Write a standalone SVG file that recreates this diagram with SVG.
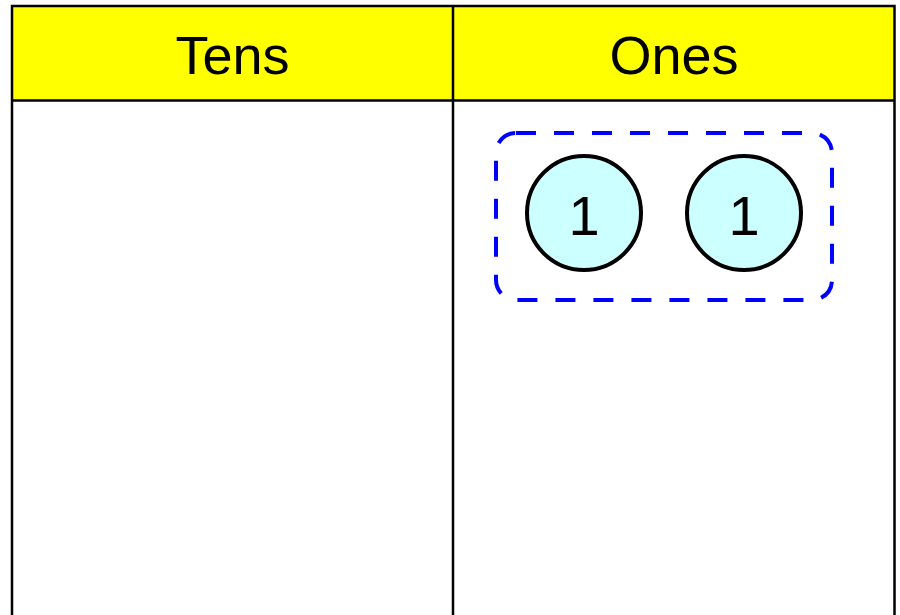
<svg xmlns="http://www.w3.org/2000/svg" width="900" height="615" viewBox="0 0 900 615">
  <style>
    .grid { stroke: #000; stroke-width: 2.5; fill: none; }
    .hdr { font-family: "Liberation Sans", Arial, sans-serif; font-size: 54px; fill: #000; text-anchor: middle; }
    .disc circle { fill: #CCFFFF; stroke: #000; stroke-width: 4; }
    .disc text { font-family: "Liberation Sans", Arial, sans-serif; font-size: 56px; fill: #000; text-anchor: middle; }
    .group { fill: none; stroke: #0000FF; stroke-width: 4; stroke-dasharray: 20 18; }
  </style>
  <rect x="0" y="0" width="900" height="615" fill="#fff"/>
  <g id="table">
    <rect x="12" y="6" width="882.5" height="94.5" fill="#FFFF00"/>
    <rect x="12" y="100.5" width="882.5" height="520" fill="#fff"/>
    <path class="grid" d="M12 630 V6 H894.5 V630 M453 6 V630 M12 100.5 H894.5"/>
    <text class="hdr" x="232.5" y="74">Tens</text>
    <text class="hdr" x="674" y="74">Ones</text>
  </g>
  <g id="group-box">
    <rect class="group" x="496" y="133" width="336" height="167" rx="20" ry="20"/>
  </g>
  <g id="disc1" class="disc">
    <circle cx="584" cy="213" r="57"/>
    <text x="584" y="235">1</text>
  </g>
  <g id="disc2" class="disc">
    <circle cx="744" cy="213" r="57"/>
    <text x="744" y="235">1</text>
  </g>
</svg>
